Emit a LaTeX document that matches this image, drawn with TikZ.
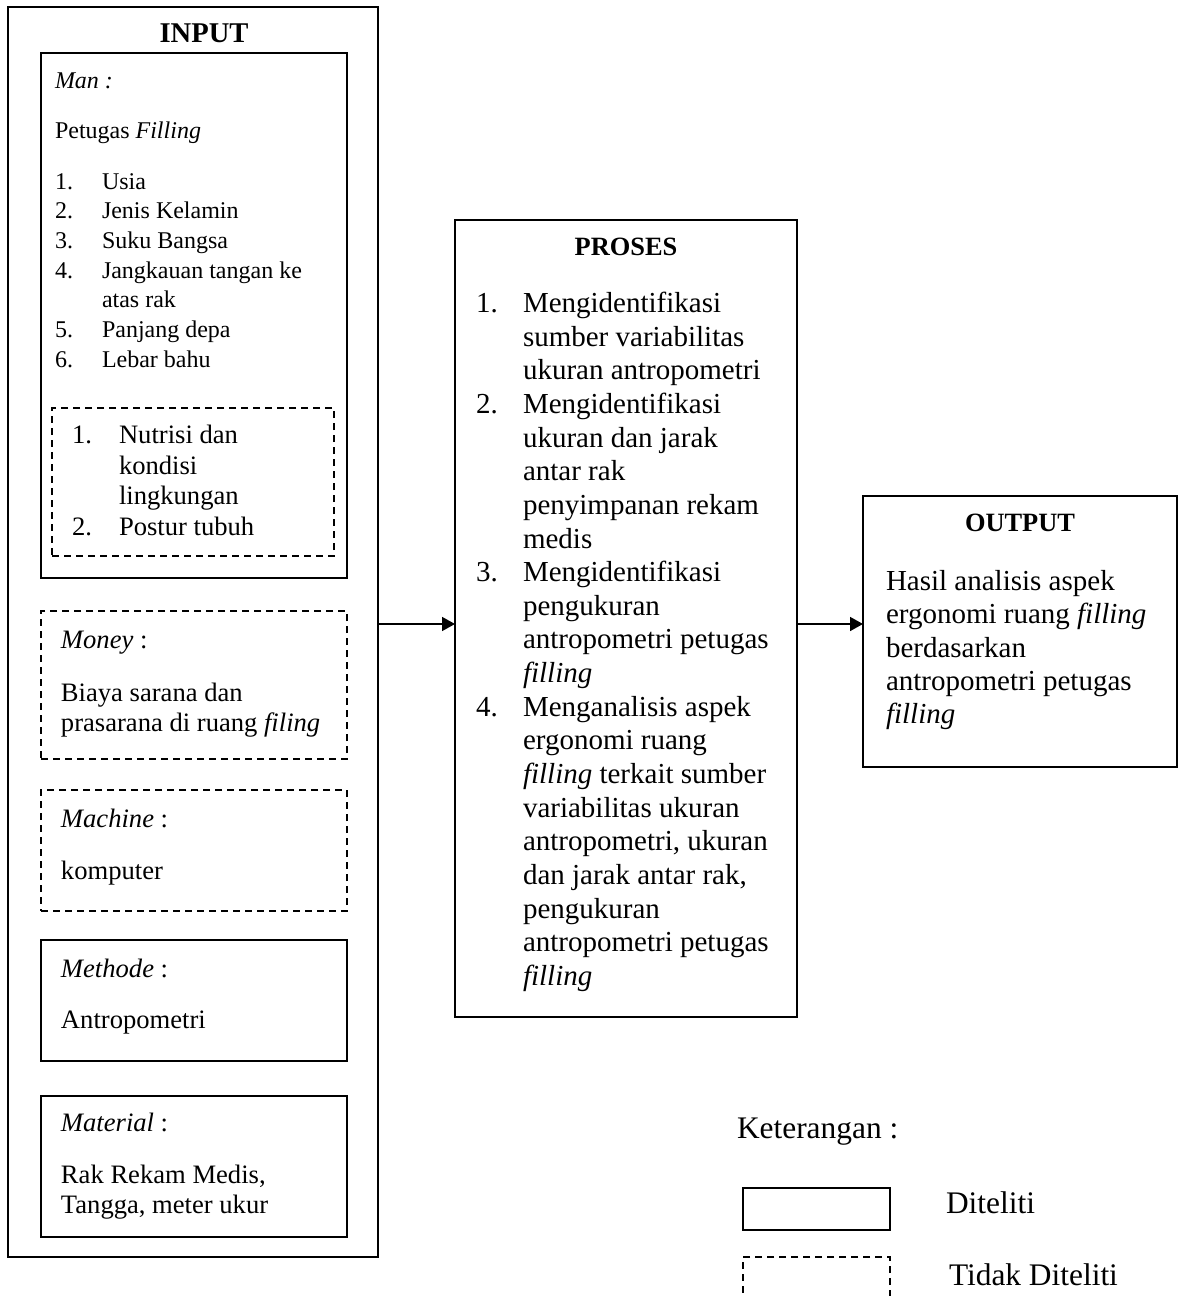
\documentclass[tikz,border=0pt]{standalone}
\usepackage{fontspec}
\setmainfont{Liberation Serif}
\usetikzlibrary{arrows.meta}
\begin{document}
\begin{tikzpicture}[x=0.5pt,y=-0.5pt,
  box/.style={draw, line width=1pt, rectangle, inner sep=0pt, outer sep=0pt},
  dbox/.style={box, dash pattern=on 3.5pt off 2.5pt},
  ta/.style={anchor=west, inner sep=0pt, outer sep=0pt, yshift=-1.5pt, font=\fontsize{12}{14}\selectfont, text height=8.2pt, text depth=2.4pt},
  tb/.style={anchor=west, inner sep=0pt, outer sep=0pt, yshift=-1.5pt, font=\fontsize{13.3}{15}\selectfont, text height=9pt, text depth=2.66pt},
  tc/.style={anchor=west, inner sep=0pt, outer sep=0pt, yshift=-1.5pt, font=\fontsize{14.5}{17}\selectfont, text height=9.9pt, text depth=2.9pt},
  td/.style={anchor=west, inner sep=0pt, outer sep=0pt, yshift=-1.5pt, font=\fontsize{15.7}{18}\selectfont, text height=10.7pt, text depth=3.1pt},
  hd/.style={anchor=center, inner sep=0pt, outer sep=0pt, font=\bfseries\fontsize{13.2}{15}\selectfont, text height=8.7pt, text depth=0pt},
  arr/.style={line width=0.8pt, -{Triangle[length=6.5pt,width=7pt]}}
]
\clip (0,0) rectangle (1182,1296);
\fill[white] (0,0) rectangle (1182,1296);

% ---------- boxes ----------
\node[box, minimum width=185pt, minimum height=625pt] (input) at (193,632) {};
\node[box, minimum width=153pt, minimum height=262.5pt] (man) at (194,315.5) {};
\node[dbox, minimum width=141pt, minimum height=74pt] (mandash) at (193,482) {};
\node[dbox, minimum width=153pt, minimum height=74pt] (money) at (194,685) {};
\node[dbox, minimum width=153pt, minimum height=60.5pt] (machine) at (194,850.5) {};
\node[box, minimum width=153pt, minimum height=60.5pt] (methode) at (194,1000.5) {};
\node[box, minimum width=153pt, minimum height=70.5pt] (material) at (194,1166.5) {};
\node[box, minimum width=171pt, minimum height=398.5pt] (proses) at (626,618.5) {};
\node[box, minimum width=157pt, minimum height=135.5pt] (output) at (1020,631.5) {};
\node[box, minimum width=73.5pt, minimum height=21pt] (leg1) at (816.5,1209) {};
\node[dbox, minimum width=73.5pt, minimum height=36.5pt] (leg2) at (816.5,1293.5) {};

% ---------- connectors ----------
\coordinate (ay) at (0,624);
\draw[arr] (input.east |- ay) -- (proses.west |- ay);
\draw[arr] (proses.east |- ay) -- (output.west |- ay);

% ---------- INPUT ----------
\node[hd, font=\bfseries\fontsize{14.3}{16}\selectfont, text height=9.4pt] (hin) at (204,33) {INPUT};
\node[ta] (manl) at (55,80) {\textit{Man :}};
\node[ta] (pet) at (55,130) {Petugas \textit{Filling}};
\node[ta] (n1) at (55,181) {1.};  \node[ta] (i1) at (102,181) {Usia};
\node[ta] (n2) at (55,210) {2.};  \node[ta] (i2) at (102,210) {Jenis Kelamin};
\node[ta] (n3) at (55,240) {3.};  \node[ta] (i3) at (102,240) {Suku Bangsa};
\node[ta] (n4) at (55,270) {4.};  \node[ta] (i4) at (102,270) {Jangkauan tangan ke};
                                   \node[ta] (i4b) at (102,299) {atas rak};
\node[ta] (n5) at (55,329) {5.};  \node[ta] (i5) at (102,329) {Panjang depa};
\node[ta] (n6) at (55,359) {6.};  \node[ta] (i6) at (102,359) {Lebar bahu};

\node[tb] (d1) at (72,434) {1.};  \node[tb] (e1) at (119,434) {Nutrisi dan};
                                   \node[tb] (e1b) at (119,465) {kondisi};
                                   \node[tb] (e1c) at (119,495) {lingkungan};
\node[tb] (d2) at (72,526) {2.};  \node[tb] (e2) at (119,526) {Postur tubuh};

\node[tb] (mol) at (61,639) {\textit{Money} :};
\node[tb] (mo1) at (61,692) {Biaya sarana dan};
\node[tb] (mo2) at (61,722) {prasarana di ruang \textit{filing}};

\node[tb] (mal) at (61,818) {\textit{Machine} :};
\node[tb] (ma1) at (61,870) {komputer};

\node[tb] (mel) at (61,968) {\textit{Methode} :};
\node[tb] (me1) at (61,1019) {Antropometri};

\node[tb] (mtl) at (61,1122) {\textit{Material} :};
\node[tb] (mt1) at (61,1174) {Rak Rekam Medis,};
\node[tb] (mt2) at (61,1204) {Tangga, meter ukur};

% ---------- PROSES ----------
\node[hd] (hpr) at (626,247) {PROSES};
\node[tc] (p1n) at (476,302) {1.};   \node[tc] (p1) at (523,302) {Mengidentifikasi};
\node[tc] (p1b) at (523,336) {sumber variabilitas};
\node[tc] (p1c) at (523,369) {ukuran antropometri};
\node[tc] (p2n) at (476,403) {2.};   \node[tc] (p2) at (523,403) {Mengidentifikasi};
\node[tc] (p2b) at (523,437) {ukuran dan jarak};
\node[tc] (p2c) at (523,470) {antar rak};
\node[tc] (p2d) at (523,504) {penyimpanan rekam};
\node[tc] (p2e) at (523,538) {medis};
\node[tc] (p3n) at (476,571) {3.};   \node[tc] (p3) at (523,571) {Mengidentifikasi};
\node[tc] (p3b) at (523,605) {pengukuran};
\node[tc] (p3c) at (523,638) {antropometri petugas};
\node[tc] (p3d) at (523,672) {\textit{filling}};
\node[tc] (p4n) at (476,706) {4.};   \node[tc] (p4) at (523,706) {Menganalisis aspek};
\node[tc] (p4b) at (523,739) {ergonomi ruang};
\node[tc] (p4c) at (523,773) {\textit{filling} terkait sumber};
\node[tc] (p4d) at (523,807) {variabilitas ukuran};
\node[tc] (p4e) at (523,840) {antropometri, ukuran};
\node[tc] (p4f) at (523,874) {dan jarak antar rak,};
\node[tc] (p4g) at (523,908) {pengukuran};
\node[tc] (p4h) at (523,941) {antropometri petugas};
\node[tc] (p4i) at (523,975) {\textit{filling}};

% ---------- OUTPUT ----------
\node[hd] (hout) at (1020,523) {OUTPUT};
\node[tc] (o1) at (886,580) {Hasil analisis aspek};
\node[tc] (o2) at (886,613) {ergonomi ruang \textit{filling}};
\node[tc] (o3) at (886,647) {berdasarkan};
\node[tc] (o4) at (886,680) {antropometri petugas};
\node[tc] (o5) at (886,713) {\textit{filling}};

% ---------- legend ----------
\node[td] (ket) at (737,1128) {Keterangan :};
\node[td] (dit) at (946,1203) {Diteliti};
\node[td] (tdit) at (949,1275) {Tidak Diteliti};
\end{tikzpicture}
\end{document}
